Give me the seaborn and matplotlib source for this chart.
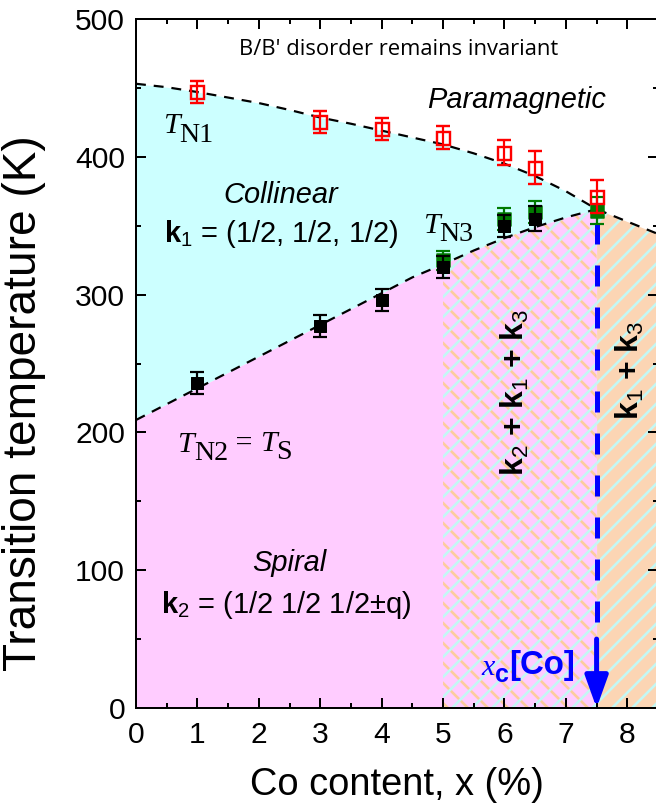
import numpy as np
import matplotlib
matplotlib.use("Agg")
import matplotlib.pyplot as plt
import seaborn as sns

DPI = 120


def px(v):
    """Convert a length in pixels to points for this figure's dpi."""
    return v * 72.0 / DPI


# ---- measured transition temperatures ------------------------------------
co_tn1 = [1, 3, 4, 5, 6, 6.5, 7.5]
tn1 = [447, 425, 420, 414, 403, 392, 371]
tn1_err = [8, 8, 8, 8, 9, 12, 12]

co_tn2 = [1, 3, 4, 5, 6, 6.5]
tn2 = [236, 277, 296, 320, 350, 355]
tn2_err = [8, 8, 8, 8, 8, 9]

co_tn3 = [5, 6, 6.5, 7.5]
tn3 = [325, 355, 360, 361]
tn3_err = [7, 8, 8, 10]

# ---- phase boundaries (guides to the eye) --------------------------------
guide1_x = [0, 0.5, 1, 1.5, 2, 2.5, 3, 3.5, 4, 4.5, 5, 5.5, 6, 6.5, 7, 7.5, 8.5]
guide1_t = [453, 450.5, 447, 443, 439, 434, 428.5, 424, 419, 414, 409, 402.5,
            395, 386, 375, 362, 344]
guide2_x = [0, 0.5, 1, 1.5, 2, 2.5, 3, 3.5, 4, 4.5, 5, 5.5, 6, 6.5, 7, 7.5]
guide2_t = [209, 220.5, 232, 243.5, 255, 266.5, 278, 289.5, 301, 312.5, 322,
            332, 341, 349, 356, 362]

x_crit = 7.5
x_mixed = 5.0
x_max = 8.5

x_ticks = [0, 1, 2, 3, 4, 5, 6, 7, 8]
y_ticks = [0, 100, 200, 300, 400, 500]

CYAN = "#ccffff"
PINK = "#ffccff"
PEACH = "#fcd5b4"
ORANGE_LINE = "#fccc9c"
CYAN_LINE = "#c4f8f4"

sns.set_theme(style="ticks")
plt.rcParams.update({
    "font.family": ["Liberation Sans", "DejaVu Sans"],
    "mathtext.fontset": "custom",
    "mathtext.rm": "Liberation Sans",
    "mathtext.it": "Liberation Sans:italic",
    "mathtext.bf": "Liberation Sans:bold",
    "mathtext.sf": "Liberation Sans",
    "hatch.linewidth": px(2.6),
    "axes.linewidth": px(2),
    "axes.edgecolor": "black",
    "axes.labelcolor": "black",
    "text.color": "black",
    "xtick.color": "black",
    "ytick.color": "black",
    "xtick.labelcolor": "black",
    "ytick.labelcolor": "black",
})

fig = plt.figure(figsize=(656 / DPI, 812 / DPI), dpi=DPI)
ax = fig.add_axes([136 / 656, 1 - 708 / 812, 522 / 656, 689 / 812])

g1x = np.array(guide1_x)
g1t = np.array(guide1_t)
g2x = np.array(guide2_x)
g2t = np.array(guide2_t)
n2 = len(g2x)

# ---- coloured phase regions ---------------------------------------------
ax.fill_between(g2x, g2t, g1t[:n2], facecolor=CYAN, lw=0, zorder=0)
ax.fill_between(g2x, 0, g2t, facecolor=PINK, lw=0, zorder=0)
mixed = g2x >= x_mixed
ax.fill_between(g2x[mixed], 0, g2t[mixed], facecolor="none",
                edgecolor=ORANGE_LINE, hatch="\\\\", lw=0, zorder=0.2)
ax.fill_between(g2x[mixed], 0, g2t[mixed], facecolor="none",
                edgecolor=CYAN_LINE, hatch="//", lw=0, zorder=0.3)
beyond = g1x >= x_crit
ax.fill_between(g1x[beyond], 0, g1t[beyond], facecolor=PEACH, lw=0, zorder=0)
ax.fill_between(g1x[beyond], 0, g1t[beyond], facecolor="none",
                edgecolor=CYAN_LINE, hatch="//", lw=0, zorder=0.3)

# ---- dashed boundaries ----------------------------------------------------
for gx, gt in ((g1x, g1t), (g2x, g2t)):
    sns.lineplot(x=gx, y=gt, ax=ax, color="black", lw=px(2.2),
                 sort=False, estimator=None, zorder=2)
    ax.lines[-1].set_dashes([4.5, 3.6])

# critical concentration marker
ax.plot([x_crit, x_crit], [352, 48], color="#0000ff", lw=px(5),
        dashes=[4.2, 4.2], zorder=2.5)
ax.annotate("", xy=(x_crit, 0), xytext=(x_crit, 50),
            arrowprops=dict(arrowstyle="-|>,head_length=1.0,head_width=0.36",
                            color="#0000ff", lw=px(5), shrinkA=0, shrinkB=0,
                            mutation_scale=px(27)),
            zorder=2.5, annotation_clip=False)

# ---- data points ----------------------------------------------------------
ms = px(13)
ax.errorbar(co_tn3, tn3, yerr=tn3_err, fmt="none", ecolor="#007a00",
            elinewidth=px(2.2), capsize=px(7), capthick=px(2.2), zorder=3)
sns.scatterplot(x=co_tn3, y=tn3, ax=ax, marker="s", s=ms ** 2,
                color="#007a00", edgecolor="#007a00", linewidth=px(1.5),
                zorder=3.1, legend=False)
ax.errorbar(co_tn2, tn2, yerr=tn2_err, fmt="none", ecolor="black",
            elinewidth=px(2.2), capsize=px(7), capthick=px(2.2), zorder=3.2)
sns.scatterplot(x=co_tn2, y=tn2, ax=ax, marker="s", s=(ms * 0.95) ** 2,
                color="black", edgecolor="black", linewidth=px(1),
                zorder=3.3, legend=False)
ax.errorbar(co_tn1, tn1, yerr=tn1_err, fmt="s", color="red", mfc="none",
            mec="red", mew=px(2.4), ms=ms, elinewidth=px(2.2),
            capsize=px(7), capthick=px(2.2), zorder=3.4)


# ---- labels -----------------------------------------------------------------
def chain_text(x, y, pieces, color="black"):
    """Place text pieces one after another; each piece is
    (string, size_px, family, style, weight, baseline_shift_px)."""
    s, size, fam, sty, wt, _ = pieces[0]
    prev = ax.text(x, y, s, fontsize=px(size), family=fam, style=sty,
                   weight=wt, color=color, ha="left", va="baseline",
                   zorder=5)
    prev_shift, prev_size = 0, size
    for s, size, fam, sty, wt, shift in pieces[1:]:
        dy = shift - prev_shift + 0.216 * prev_size
        prev = ax.annotate(s, xy=(1, 0), xycoords=prev, xytext=(0, px(dy)),
                           textcoords="offset points", fontsize=px(size),
                           family=fam, style=sty, weight=wt, color=color,
                           ha="left", va="baseline", zorder=5)
        prev_shift, prev_size = shift, size


SERIF = "Liberation Serif"
SANS = "Liberation Sans"

chain_text(0.44, 417, [("T", 30, SERIF, "italic", "normal", 0),
                       ("N1", 28, SERIF, "normal", "normal", -9)])
chain_text(4.67, 345, [("T", 30, SERIF, "italic", "normal", 0),
                       ("N3", 28, SERIF, "normal", "normal", -9)])
chain_text(0.67, 186, [("T", 30, SERIF, "italic", "normal", 0),
                       ("N2", 28, SERIF, "normal", "normal", -9),
                       (" = ", 30, SERIF, "normal", "normal", 0),
                       ("T", 30, SERIF, "italic", "normal", 0),
                       ("S", 28, SERIF, "normal", "normal", -9)])
chain_text(5.63, 24, [("x", 30, SERIF, "italic", "normal", 0),
                      ("c", 25, SANS, "normal", "bold", -8),
                      ("[Co]", 33, SANS, "normal", "bold", 0)],
           color="#0000ff")

ax.text(4.27, 478, "B/B' disorder remains invariant", ha="center",
        va="center", family="Open Sans", fontsize=px(22), zorder=5)
ax.text(6.2, 441, "Paramagnetic", ha="center", va="center", style="italic",
        fontsize=px(29), zorder=5)
ax.text(2.36, 372, "Collinear", ha="center", va="center", style="italic",
        fontsize=px(29), zorder=5)
ax.text(2.36, 344, r"$\mathbf{k}_\mathsf{1}$ = (1/2, 1/2, 1/2)", ha="center",
        va="center", fontsize=px(29), zorder=5)
ax.text(2.49, 105, "Spiral", ha="center", va="center", style="italic",
        fontsize=px(29), zorder=5)
ax.text(2.44, 75, r"$\mathbf{k}_\mathsf{2}$ = (1/2 1/2 1/2$\pm$q)",
        ha="center", va="center", fontsize=px(29), zorder=5)
ax.text(6.17, 229,
        r"$\mathbf{k}_\mathsf{2}$ + $\mathbf{k}_\mathsf{1}$ + $\mathbf{k}_\mathsf{3}$",
        rotation=90, ha="center", va="center", weight="bold",
        fontsize=px(32), zorder=5)
ax.text(8.05, 245, r"$\mathbf{k}_\mathsf{1}$ + $\mathbf{k}_\mathsf{3}$",
        rotation=90, ha="center", va="center", weight="bold",
        fontsize=px(32), zorder=5)

# ---- axes ---------------------------------------------------------------------
ax.set_xlim(0, x_max)
ax.set_ylim(0, 500)
ax.set_xticks(x_ticks)
ax.set_yticks(y_ticks)
ax.set_xticks(np.arange(0.5, x_max, 1.0), minor=True)
ax.set_yticks(np.arange(50, 500, 100), minor=True)
ax.tick_params(which="both", direction="in", top=True, right=True,
               width=px(2), labelsize=px(30))
ax.tick_params(which="major", length=px(10))
ax.tick_params(which="minor", length=px(5))
ax.tick_params(axis="x", pad=px(13))
ax.tick_params(axis="y", pad=px(11))
ax.set_xlabel("Co content, x (%)", fontsize=px(38), labelpad=px(18))
ax.set_ylabel("Transition temperature (K)", fontsize=px(46))
ax.yaxis.set_label_coords(-0.172, 0.443)
for sp in ax.spines.values():
    sp.set_zorder(6)

fig.savefig("out.png", dpi=DPI)
